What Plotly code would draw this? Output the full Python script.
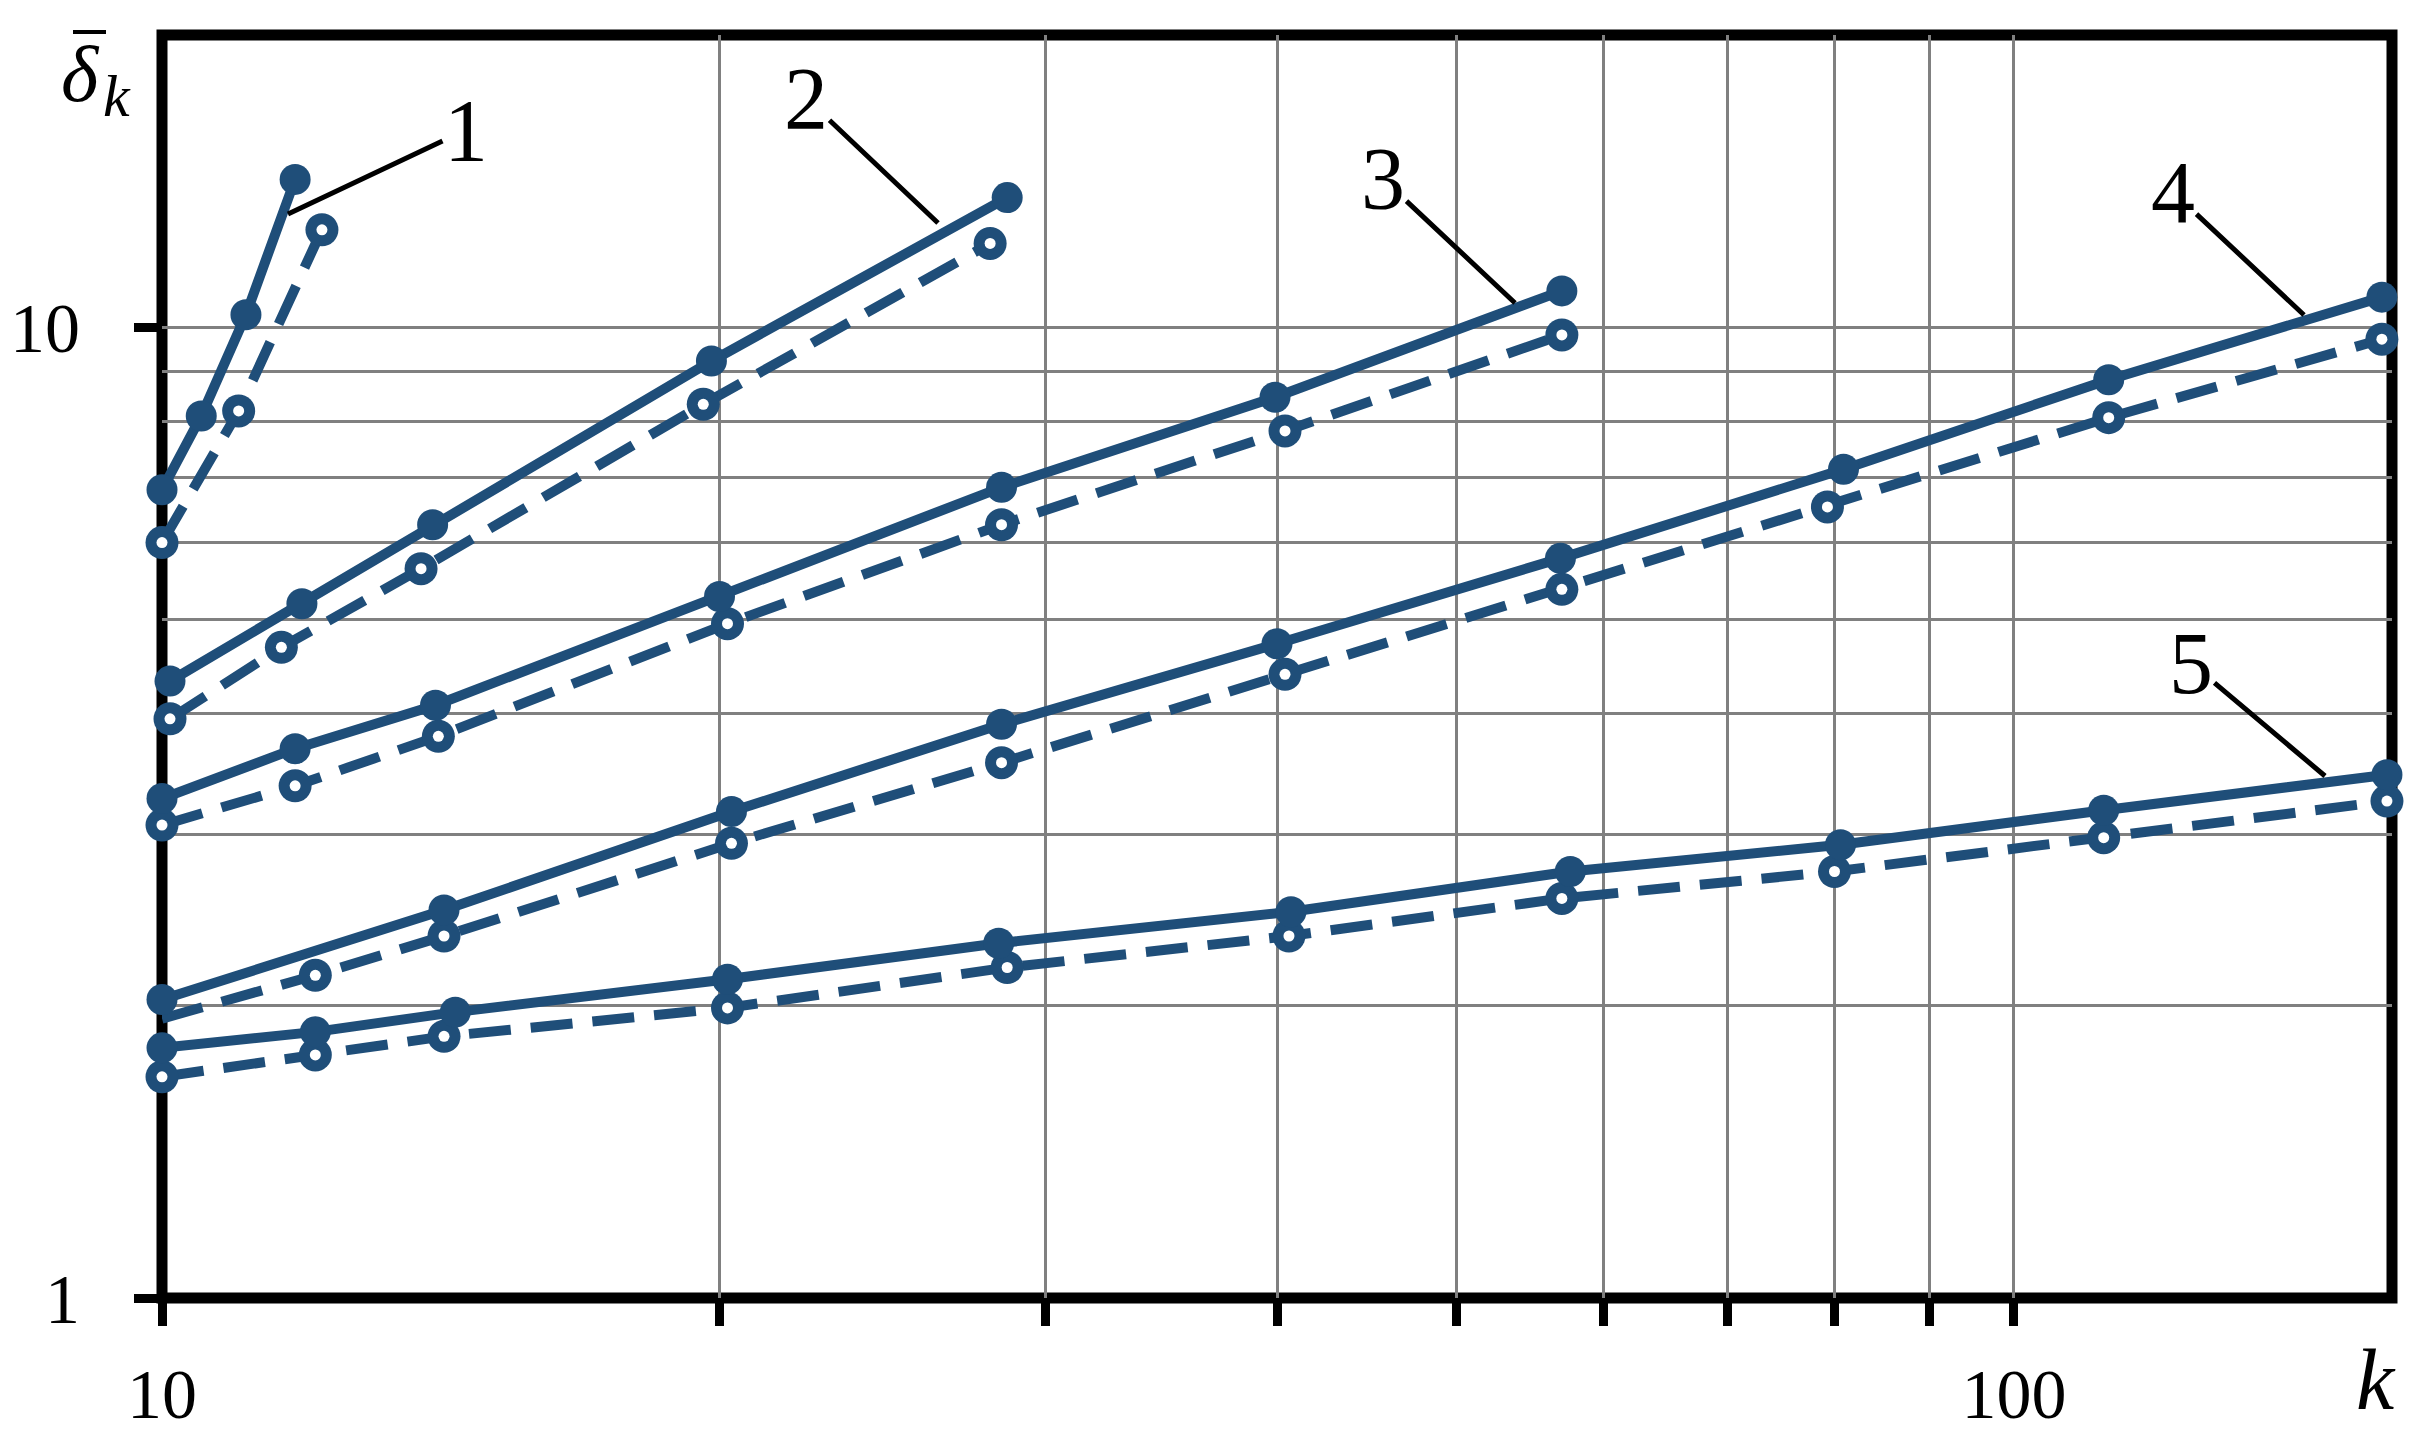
import numpy as np
import plotly.graph_objects as go

# curve 1
k1_solid = [10, 10.5, 11.1, 11.8]
d1_solid = [6.8, 8.1, 10.3, 14.2]
k1_dash = [10, 11.0, 12.2]
d1_dash = [6.0, 8.2, 12.6]

# curve 2
k2_solid = [10.1, 11.9, 14.0, 19.8, 28.6]
d2_solid = [4.32, 5.19, 6.26, 9.23, 13.6]
k2_dash = [10.1, 11.6, 13.8, 19.6, 28.0]
d2_dash = [3.95, 4.68, 5.64, 8.33, 12.2]

# curve 3
k3_solid = [10, 11.8, 14.05, 20.0, 28.4, 39.9, 57.0]
d3_solid = [3.27, 3.68, 4.08, 5.28, 6.84, 8.47, 10.9]
k3_dash = [10, 11.8, 14.1, 20.2, 28.4, 40.4, 57.0]
d3_dash = [3.07, 3.37, 3.79, 4.95, 6.26, 7.82, 9.82]

# curve 4
k4_solid = [10, 14.2, 20.3, 28.4, 40.0, 56.9, 80.9, 112.5, 158]
d4_solid = [2.03, 2.51, 3.17, 3.90, 4.72, 5.78, 7.14, 8.83, 10.74]
k4_dash = [10, 12.1, 14.2, 20.3, 28.4, 40.4, 57.0, 79.3, 112.5, 158]
d4_dash = [1.94, 2.15, 2.36, 2.94, 3.56, 4.39, 5.37, 6.53, 8.07, 9.72]

# curve 5
k5_solid = [10, 12.1, 14.4, 20.2, 28.3, 40.7, 57.6, 80.6, 111.8, 159]
d5_solid = [1.81, 1.88, 1.97, 2.13, 2.32, 2.50, 2.75, 2.93, 3.18, 3.46]
k5_dash = [10, 12.1, 14.2, 20.2, 28.6, 40.6, 57.0, 80.0, 111.8, 159]
d5_dash = [1.69, 1.78, 1.86, 1.99, 2.19, 2.36, 2.58, 2.75, 2.98, 3.25]

x_ticks = [10, 20, 30, 40, 50, 60, 70, 80, 90, 100]
x_ticktext = ['10', '', '', '', '', '', '', '', '', '100']
y_ticks = [1, 10]
y_ticktext = ['1', '10']
y_minor = [2, 3, 4, 5, 6, 7, 8, 9]

curve_labels = ['1', '2', '3', '4', '5']

BLUE = '#1F4E79'
FONT = 'Liberation Serif'
W, H = 2434, 1453
OFF = 8  # page body margin shifts the figure
L, R, T, B = 162 - OFF, 50, 35 - OFF, 163

solid = [(k1_solid, d1_solid), (k2_solid, d2_solid), (k3_solid, d3_solid),
         (k4_solid, d4_solid), (k5_solid, d5_solid)]
dashed = [(k1_dash, d1_dash), (k2_dash, d2_dash), (k3_dash, d3_dash),
          (k4_dash, d4_dash), (k5_dash, d5_dash)]

fig = go.Figure()
for i, (kx, dy) in enumerate(dashed):
    ring = [33] * len(kx)
    hole = [11] * len(kx)
    if i == 3:
        ring[0] = 0  # no open marker at the start of curve 4
        hole[0] = 0
    fig.add_trace(go.Scatter(x=kx, y=dy, mode='lines+markers', cliponaxis=False,
                             line=dict(color=BLUE, width=10, dash='42px,20px'),
                             marker=dict(symbol='circle', size=ring, color=BLUE, opacity=1,
                                         line=dict(width=0))))
    # white centre of the open circles
    fig.add_trace(go.Scatter(x=kx, y=dy, mode='markers', cliponaxis=False,
                             marker=dict(symbol='circle', size=hole, color='white', opacity=1,
                                         line=dict(width=0))))
for kx, dy in solid:
    fig.add_trace(go.Scatter(x=kx, y=dy, mode='lines+markers', cliponaxis=False,
                             line=dict(color=BLUE, width=10),
                             marker=dict(symbol='circle', size=31, color=BLUE, opacity=1,
                                         line=dict(width=0))))


def paper(x, y):
    # screen pixels -> paper coordinates
    x, y = x - OFF, y - OFF
    return (x - L) / (W - L - R), (H - B - y) / (H - T - B)


# label text position, leader tip position (pixels)
leaders = [(466, 130, 288, 214), (806, 98, 938, 223), (1383, 179, 1515, 303),
           (2173, 192, 2304, 315), (2191, 663, 2325, 776)]
for lab, (tx, ty, hx, hy) in zip(curve_labels, leaders):
    ax_, ay_ = paper(hx, hy)
    fig.add_annotation(x=ax_, y=ay_, xref='paper', yref='paper', text=lab,
                       showarrow=True, arrowhead=0, arrowwidth=5, arrowcolor='black',
                       ax=tx - hx, ay=ty - hy, font=dict(family=FONT, size=88, color='black'))

# axis name of the ordinate: delta with a bar, subscript k
dx, dy_ = paper(80, 74)
fig.add_annotation(x=dx, y=dy_, xref='paper', yref='paper', showarrow=False,
                   xanchor='center', yanchor='middle', text='<i>δ</i>',
                   font=dict(family=FONT, size=80, color='black'))
sx, sy = paper(117, 96)
fig.add_annotation(x=sx, y=sy, xref='paper', yref='paper', showarrow=False,
                   xanchor='center', yanchor='middle', text='<i>k</i>',
                   font=dict(family=FONT, size=60, color='black'))
b0x, b0y = paper(73, 32)
b1x, b1y = paper(106, 32)
fig.add_shape(type='line', xref='paper', yref='paper', x0=b0x, y0=b0y, x1=b1x, y1=b1y,
              line=dict(color='black', width=4))

kx_, ky_ = paper(2376, 1380)
fig.add_annotation(x=kx_, y=ky_, xref='paper', yref='paper', showarrow=False,
                   xanchor='center', yanchor='middle',
                   text='<i>k</i>', font=dict(family=FONT, size=86, color='black'))

# frame around the plot area
fig.add_shape(type='rect', xref='paper', yref='paper', x0=0, y0=0, x1=1, y1=1,
              line=dict(color='black', width=11), layer='below')

fig.update_xaxes(type='log', range=[1, np.log10(160)], tickvals=x_ticks, ticktext=x_ticktext,
                 showgrid=True, gridcolor='#808080', gridwidth=3,
                 showline=False, zeroline=False,
                 ticks='outside', ticklen=27, tickwidth=9, tickcolor='black',
                 ticklabelstandoff=8, layer='below traces',
                 tickfont=dict(family=FONT, size=70, color='black'))
fig.update_yaxes(type='log', range=[0, np.log10(20)], tickvals=y_ticks, ticktext=y_ticktext,
                 showgrid=True, gridcolor='#808080', gridwidth=3,
                 minor=dict(tickvals=y_minor, showgrid=True, gridcolor='#808080',
                            gridwidth=3, ticks=''),
                 showline=False, zeroline=False,
                 ticks='outside', ticklen=27, tickwidth=9, tickcolor='black',
                 ticklabelstandoff=40, layer='below traces',
                 tickfont=dict(family=FONT, size=70, color='black'))
fig.update_layout(width=W, height=H, showlegend=False,
                  margin=dict(l=L, r=R, t=T, b=B, autoexpand=False),
                  plot_bgcolor='white', paper_bgcolor='white')
fig.write_html('out.html')
